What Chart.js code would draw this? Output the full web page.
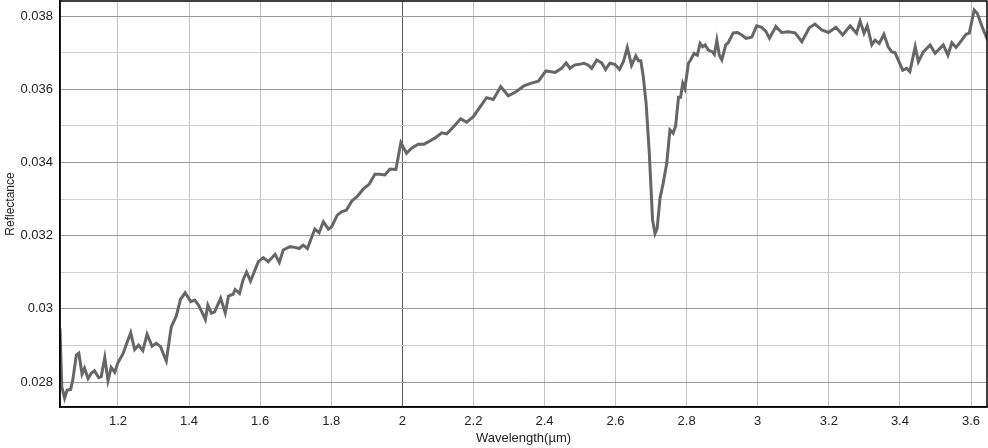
<!DOCTYPE html>
<html>
<head>
<meta charset="utf-8">
<script src="https://cdn.jsdelivr.net/npm/chart.js@4/dist/chart.umd.min.js"></script>
<style>
  html, body { margin: 0; padding: 0; background: #fff; }
  #wrap { width: 988px; height: 448px; }
</style>
</head>
<body>
<div id="wrap"><canvas id="spec"></canvas></div>
<script>
// spectrum
const wavelength = [
  1.037, 1.042, 1.050, 1.057, 1.067, 1.073, 1.083, 1.090, 1.099, 1.106,
  1.116, 1.125, 1.134, 1.146, 1.153, 1.163, 1.172, 1.181, 1.191, 1.200,
  1.214, 1.223, 1.236, 1.247, 1.258, 1.270, 1.282, 1.296, 1.308, 1.320,
  1.329, 1.336, 1.350, 1.364, 1.376, 1.389, 1.405, 1.416, 1.427, 1.436,
  1.446, 1.453, 1.463, 1.472, 1.489, 1.502, 1.511, 1.524, 1.530, 1.542,
  1.552, 1.562, 1.573, 1.595, 1.609, 1.623, 1.642, 1.654, 1.665, 1.684,
  1.698, 1.710, 1.721, 1.733, 1.754, 1.766, 1.778, 1.792, 1.801, 1.817,
  1.829, 1.843, 1.858, 1.872, 1.890, 1.907, 1.923, 1.937, 1.951, 1.965,
  1.982, 1.996, 2.012, 2.026, 2.045, 2.061, 2.078, 2.095, 2.111, 2.125,
  2.145, 2.164, 2.181, 2.200, 2.219, 2.237, 2.256, 2.277, 2.298, 2.320,
  2.342, 2.361, 2.383, 2.404, 2.430, 2.448, 2.461, 2.472, 2.484, 2.498,
  2.511, 2.523, 2.533, 2.547, 2.561, 2.572, 2.584, 2.598, 2.611, 2.622,
  2.633, 2.645, 2.657, 2.664, 2.671, 2.678, 2.686, 2.695, 2.704, 2.711,
  2.717, 2.725, 2.734, 2.744, 2.753, 2.762, 2.769, 2.777, 2.783, 2.789,
  2.795, 2.805, 2.811, 2.821, 2.830, 2.838, 2.845, 2.852, 2.861, 2.873,
  2.878, 2.885, 2.892, 2.899, 2.910, 2.917, 2.931, 2.943, 2.955, 2.967,
  2.983, 2.997, 3.011, 3.023, 3.033, 3.051, 3.067, 3.086, 3.105, 3.124,
  3.145, 3.161, 3.180, 3.199, 3.220, 3.239, 3.260, 3.278, 3.288, 3.299,
  3.308, 3.321, 3.330, 3.342, 3.355, 3.367, 3.377, 3.386, 3.408, 3.419,
  3.428, 3.443, 3.452, 3.466, 3.485, 3.499, 3.522, 3.535, 3.546, 3.558,
  3.574, 3.586, 3.595, 3.609, 3.618, 3.633, 3.647
];
const reflectance = [
  0.02947, 0.02787, 0.02756, 0.02778, 0.02780, 0.02806, 0.02874, 0.02879, 0.02822, 0.02838,
  0.02810, 0.02824, 0.02831, 0.02812, 0.02815, 0.02867, 0.02804, 0.02840, 0.02827, 0.02853,
  0.02877, 0.02901, 0.02935, 0.02889, 0.02901, 0.02886, 0.02931, 0.02898, 0.02906, 0.02897,
  0.02874, 0.02858, 0.02951, 0.02980, 0.03026, 0.03044, 0.03020, 0.03024, 0.03010, 0.02992,
  0.02971, 0.03010, 0.02988, 0.02992, 0.03029, 0.02989, 0.03035, 0.03040, 0.03053, 0.03042,
  0.03079, 0.03101, 0.03076, 0.03129, 0.03140, 0.03129, 0.03149, 0.03127, 0.03161, 0.03170,
  0.03168, 0.03165, 0.03174, 0.03165, 0.03218, 0.03208, 0.03238, 0.03218, 0.03224, 0.03256,
  0.03265, 0.03270, 0.03295, 0.03306, 0.03327, 0.03341, 0.03368, 0.03368, 0.03366, 0.03382,
  0.03381, 0.03454, 0.03425, 0.03439, 0.03450, 0.03450, 0.03459, 0.03469, 0.03481, 0.03478,
  0.03498, 0.03519, 0.03510, 0.03525, 0.03552, 0.03577, 0.03572, 0.03607, 0.03582, 0.03593,
  0.03609, 0.03616, 0.03622, 0.03650, 0.03646, 0.03657, 0.03672, 0.03657, 0.03666, 0.03668,
  0.03671, 0.03666, 0.03657, 0.03680, 0.03672, 0.03654, 0.03671, 0.03668, 0.03654, 0.03675,
  0.03714, 0.03665, 0.03691, 0.03678, 0.03678, 0.03634, 0.03561, 0.03425, 0.03243, 0.03206,
  0.03220, 0.03302, 0.03343, 0.03398, 0.03489, 0.03480, 0.03500, 0.03578, 0.03578, 0.03616,
  0.03602, 0.03671, 0.03680, 0.03698, 0.03693, 0.03725, 0.03716, 0.03721, 0.03707, 0.03702,
  0.03695, 0.03734, 0.03693, 0.03680, 0.03721, 0.03727, 0.03754, 0.03755, 0.03748, 0.03739,
  0.03742, 0.03773, 0.03769, 0.03758, 0.03739, 0.03771, 0.03755, 0.03757, 0.03754, 0.03730,
  0.03768, 0.03778, 0.03762, 0.03755, 0.03769, 0.03748, 0.03773, 0.03753, 0.03786, 0.03753,
  0.03773, 0.03721, 0.03734, 0.03725, 0.03750, 0.03716, 0.03702, 0.03700, 0.03652, 0.03657,
  0.03648, 0.03716, 0.03675, 0.03702, 0.03721, 0.03698, 0.03721, 0.03693, 0.03727, 0.03714,
  0.03734, 0.03750, 0.03753, 0.03816, 0.03807, 0.03766, 0.03734
];

const xTicks = [1.2, 1.4, 1.6, 1.8, 2, 2.2, 2.4, 2.6, 2.8, 3, 3.2, 3.4, 3.6];
const yTicks = [0.028, 0.029, 0.03, 0.031, 0.032, 0.033, 0.034, 0.035, 0.036, 0.037, 0.038];
const yLabelled = [0.028, 0.03, 0.032, 0.034, 0.036, 0.038];

const FONT = "'Liberation Sans', Arial, Helvetica, sans-serif";

const isLabelled = v => yLabelled.some(t => Math.abs(t - v) < 1e-9);

// chart.js only strokes left/bottom, the reference has a full box
const frame = {
  id: 'frame',
  afterDraw(chart) {
    const { ctx, chartArea: { left, top, right, bottom } } = chart;
    ctx.save();
    ctx.strokeStyle = '#000';
    ctx.lineWidth = 1.5;
    ctx.strokeRect(left, top, right - left, bottom - top);
    ctx.restore();
  }
};

new Chart(document.getElementById('spec'), {
  type: 'line',
  data: {
    datasets: [{
      data: wavelength.map((w, i) => ({ x: w, y: reflectance[i] })),
      borderColor: '#666666',
      borderWidth: 3,
      pointRadius: 0,
      tension: 0,
      fill: false,
    }]
  },
  options: {
    responsive: true,
    maintainAspectRatio: false,
    animation: false,
    layout: { padding: { top: 1, right: 1, left: 0, bottom: 0 } },
    plugins: {
      legend: { display: false },
      tooltip: { enabled: false },
    },
    scales: {
      x: {
        type: 'linear',
        min: 1.037,
        max: 3.645,
        afterBuildTicks(scale) {
          scale.ticks = xTicks.map(v => ({ value: v }));
        },
        afterFit(scale) {
          scale.height = 41;
          scale.paddingLeft = 0;
          scale.paddingRight = 0;
        },
        ticks: {
          color: '#222',
          font: { family: FONT, size: 13 },
          padding: 7,
          maxRotation: 0,
          autoSkip: false,
          callback: v => String(v),
        },
        grid: {
          color: ctx => (ctx.tick && Math.abs(ctx.tick.value - 2) < 1e-9) ? '#5a5a5a' : '#c4c4c4',
          lineWidth: 1,
          drawTicks: false,
        },
        border: { color: '#000', width: 1.5 },
        title: {
          display: true,
          text: 'Wavelength(µm)',
          color: '#222',
          font: { family: FONT, size: 13 },
          padding: { top: 2, bottom: 2 },
        },
      },
      y: {
        type: 'linear',
        min: 0.02732,
        max: 0.03841,
        afterBuildTicks(scale) {
          scale.ticks = yTicks.map(v => ({ value: v }));
        },
        afterFit(scale) {
          scale.width = 60;
          scale.paddingTop = 0;
          scale.paddingBottom = 0;
        },
        ticks: {
          color: '#222',
          font: { family: FONT, size: 13 },
          padding: 7,
          autoSkip: false,
          callback: v => isLabelled(v) ? String(v) : '',
        },
        grid: {
          color: ctx => (ctx.tick && isLabelled(ctx.tick.value)) ? '#9a9a9a' : '#cfcfcf',
          lineWidth: 1,
          drawTicks: false,
        },
        border: { color: '#000', width: 1.5 },
        title: {
          display: true,
          text: 'Reflectance',
          color: '#222',
          font: { family: FONT, size: 12 },
          padding: { top: 3, bottom: 2 },
        },
      },
    },
  },
  plugins: [frame],
});
</script>
</body>
</html>
